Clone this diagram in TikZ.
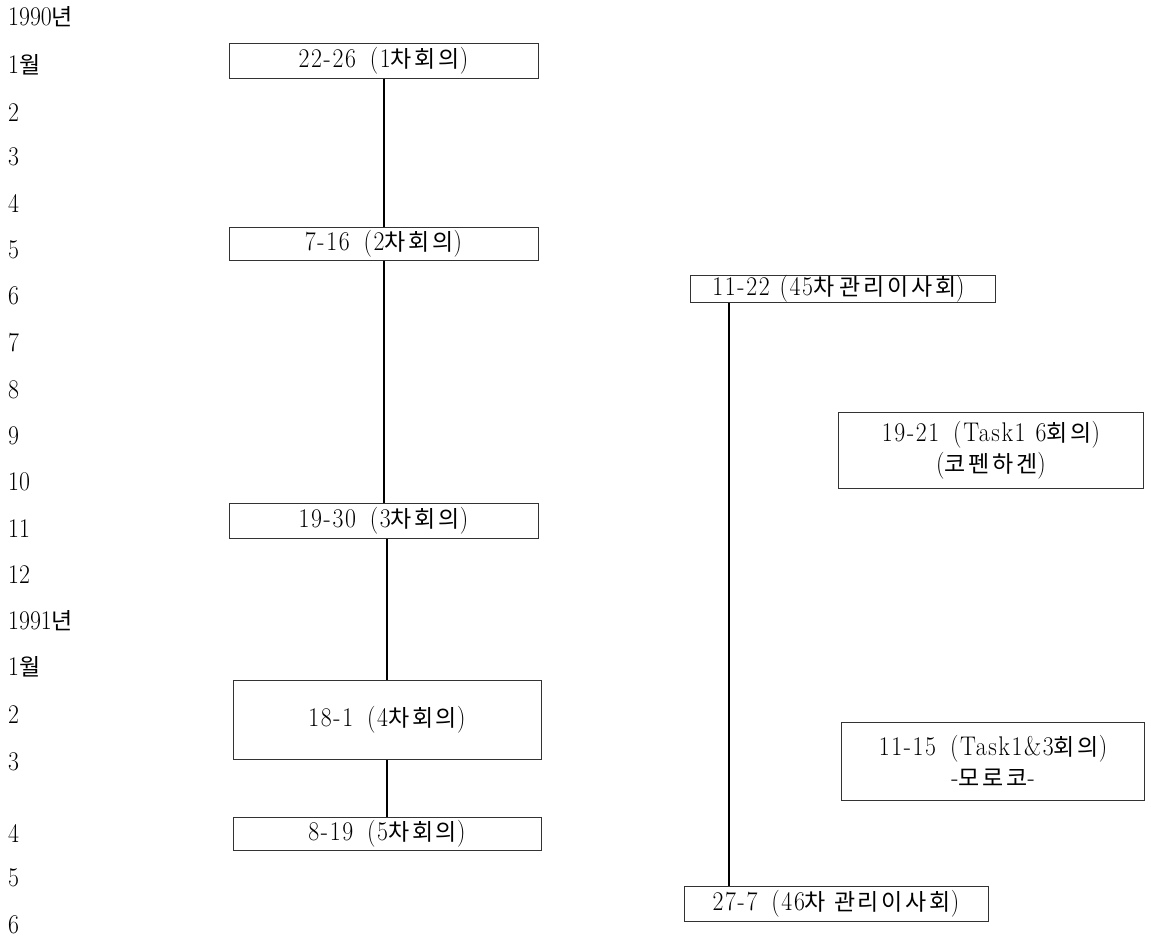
\documentclass[tikz,border=0pt]{standalone}
\usepackage{fontspec}
\setmainfont{Latin Modern Roman}[FakeStretch=0.88]
\newfontfamily\boxfont{Latin Modern Roman}[FakeStretch=0.88,LetterSpace=6]
\newfontfamily\kr{Noto Sans CJK KR}[LetterSpace=12]
\newfontfamily\krl{Noto Sans CJK KR}
\newcommand{\K}[1]{{\kr\fontsize{23}{26}\selectfont #1}}
\newcommand{\KL}[1]{{\krl\fontsize{23}{26}\selectfont #1}}
\newcommand{\gap}{\hspace{14pt}}
\begin{document}
\begin{tikzpicture}[x=1pt,y=-1pt,
  lbl/.style={anchor=west,inner sep=0pt,font=\fontsize{27}{31}\selectfont},
  box/.style={draw=black!80,line width=1pt,inner sep=0pt,align=center,font=\boxfont\fontsize{27}{31}\selectfont},
  link/.style={line width=2pt}]
\useasboundingbox (0,0) rectangle (1151,937);
% month labels
\node[lbl] (y90) at (8,17) {1990\KL{년}};
\node[lbl] (m1) at (8,65) {1\KL{월}};
\node[lbl] (m2) at (8,113) {2};
\node[lbl] (m3) at (8,157) {3};
\node[lbl] (m4) at (8,203) {4};
\node[lbl] (m5) at (8,250) {5};
\node[lbl] (m6) at (8,296) {6};
\node[lbl] (m7) at (8,343) {7};
\node[lbl] (m8) at (8,390) {8};
\node[lbl] (m9) at (8,436) {9};
\node[lbl] (m10) at (8,482) {10};
\node[lbl] (m11) at (8,529) {11};
\node[lbl] (m12) at (8,575) {12};
\node[lbl] (y91) at (8,621) {1991\KL{년}};
\node[lbl] (n1) at (8,667) {1\KL{월}};
\node[lbl] (n2) at (8,715) {2};
\node[lbl] (n3) at (8,762) {3};
\node[lbl] (n4) at (8,833) {4};
\node[lbl] (n5) at (8,878) {5};
\node[lbl] (n6) at (8,925) {6};
% left column boxes
\node[box,minimum width=309pt,minimum height=35pt] (b1) at (383.5,60.5) {22-26\gap(1\K{차회의})};
\node[box,minimum width=309pt,minimum height=33pt] (b2) at (383.5,243.5) {7-16\gap(2\K{차회의})};
\node[box,minimum width=309pt,minimum height=35pt] (b3) at (383.5,521) {19-30\gap(3\K{차회의})};
\node[box,minimum width=308pt,minimum height=79pt] (b4) at (387,720) {18-1\gap(4\K{차회의})};
\node[box,minimum width=308pt,minimum height=33pt] (b5) at (387,833.5) {8-19\gap(5\K{차회의})};
% right column boxes
\node[box,minimum width=305pt,minimum height=27pt] (ra) at (842.5,289) {\hspace{-8pt}11-22\hspace{10pt}(45\K{차}\hspace{5pt}\K{관리이사회})};
\node[box,minimum width=305pt,minimum height=76pt] (rb) at (991,450) {19-21\gap(Task1\hspace{10pt}6\K{회의})\\(\K{코펜하겐})};
\node[box,minimum width=303pt,minimum height=78pt] (rc) at (993,761) {11-15\gap(Task1\&3\K{회의})\\-\K{모로코}-};
\node[box,minimum width=304pt,minimum height=35pt] (rd) at (836,904) {27-7\gap(46\K{차}\hspace{8pt}\K{관리이사회})};
% connectors
\draw[link] (b1.south) -- (b2.north);
\draw[link] (b2.south) -- (b3.north);
\draw[link] (b4.north |- b3.south) -- (b4.north);
\draw[link] (b4.south) -- (b5.north);
\draw[link] ([xshift=39pt]ra.south west) -- ([xshift=39pt]ra.south west |- rd.north);
\end{tikzpicture}
\end{document}
